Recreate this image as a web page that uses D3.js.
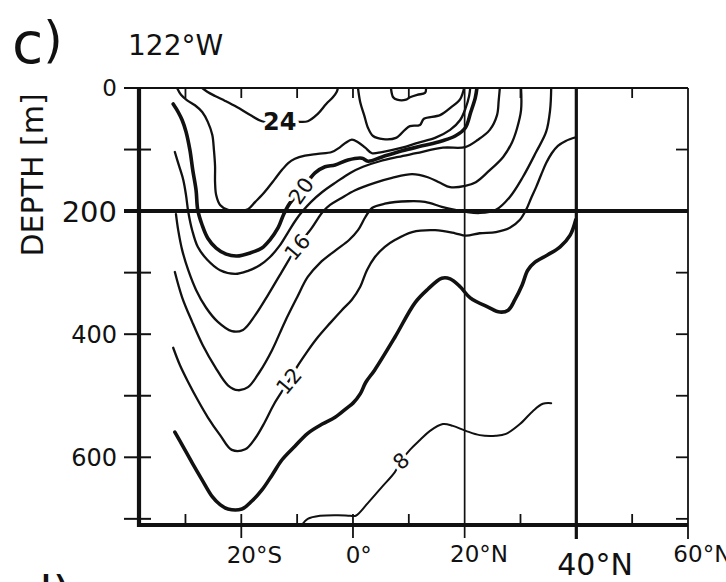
<!DOCTYPE html>
<html><head><meta charset="utf-8">
<script src="https://cdn.jsdelivr.net/npm/d3@7"></script>
<style>
body{margin:0;background:#fff}
svg{display:block}
text{font-family:"DejaVu Sans",sans-serif;fill:#111}
</style>
</head><body>
<svg id="chart" width="726" height="582"></svg>
<script>
// ---- data: isotherms as [latitude (deg, S negative), depth (m)] ----
const iso26 = [[6.8,0],[7.2,15],[7.9,19],[9.5,19],[10.2,15],[11.5,11],[12.9,8],[13.1,0]];
const iso24a = [[-27.0,0],[-26.1,6],[-24.7,13],[-22.9,21],[-20.8,31],[-18.4,44],[-16.3,54],[-13.1,57],[-10.0,55],[-8.1,54],[-6.3,42],[-4.8,26],[-3.6,15],[-2.9,6],[-2.7,0]];
const iso24b = [[0.9,0],[1.3,23],[2.0,44],[2.7,65],[3.6,78],[5.4,83],[7.7,81],[9.3,68],[10.2,62],[12.0,60],[12.7,50],[15.6,44],[17.6,31],[19.2,18],[19.9,0]];
const iso22 = [[-31.5,0],[-30.8,11],[-29.7,20],[-28.3,28],[-27.0,39],[-26.0,55],[-25.2,76],[-24.9,101],[-24.7,127],[-24.7,153],[-24.5,174],[-23.8,190],[-22.4,198],[-20.2,200],[-18.8,197],[-17.5,185],[-16.3,174],[-15.2,162],[-14.0,148],[-12.7,133],[-11.6,122],[-10.4,115],[-8.6,110],[-6.3,107],[-3.8,104],[-2.3,96],[-1.3,89],[-0.2,84],[0.9,88],[2.2,97],[3.4,106],[5.2,104],[8.8,97],[11.6,89],[14.7,81],[17.4,68],[19.2,52],[20.2,32],[20.8,13],[21.0,0]];
const iso20 = [[-32.2,26],[-31.3,39],[-30.6,52],[-29.9,71],[-29.2,101],[-28.7,133],[-28.1,166],[-27.8,198],[-27.0,223],[-26.0,244],[-24.5,260],[-22.7,270],[-20.8,273],[-18.4,268],[-16.3,260],[-14.9,247],[-13.4,227],[-12.4,205],[-11.3,187],[-9.3,167],[-6.8,138],[-5.0,128],[-3.2,125],[-0.9,117],[1.6,114],[2.7,119],[5.2,112],[8.8,102],[12.4,94],[15.9,86],[18.3,78],[20.1,65],[21.1,39],[21.9,16],[22.2,0]];
const iso18 = [[-31.9,104],[-31.2,125],[-30.4,149],[-29.9,174],[-29.5,201],[-28.8,231],[-27.8,258],[-26.1,279],[-23.8,296],[-21.1,302],[-18.8,297],[-16.7,288],[-14.9,275],[-13.2,257],[-11.6,234],[-10.2,214],[-9.0,200],[-7.5,185],[-5.5,169],[-3.0,153],[-0.5,138],[1.8,128],[4.8,119],[8.1,112],[11.3,106],[16.1,97],[20.1,96],[22.4,84],[24.5,68],[25.8,44],[26.1,20],[26.3,0]];
const iso16 = [[-31.7,205],[-31.3,231],[-30.6,263],[-29.5,296],[-28.1,328],[-26.3,357],[-24.2,380],[-21.7,395],[-19.7,393],[-17.5,369],[-15.2,336],[-13.1,304],[-10.0,258],[-7.5,229],[-6.4,214],[-5.4,201],[-4.1,190],[-2.3,180],[0.4,166],[3.9,154],[7.0,146],[10.6,140],[13.4,145],[15.6,154],[17.4,161],[20.1,159],[22.0,153],[24.2,136],[26.9,112],[28.5,88],[29.4,65],[30.1,36],[30.1,0]];
const iso14 = [[-31.9,299],[-30.6,340],[-28.8,380],[-26.9,418],[-24.7,453],[-22.4,483],[-20.6,491],[-18.8,486],[-16.7,461],[-14.5,426],[-12.2,380],[-10.0,340],[-8.1,307],[-5.9,284],[-3.0,263],[-0.7,247],[0.9,231],[2.2,210],[3.4,195],[5.7,188],[9.9,184],[12.9,185],[15.9,193],[18.3,198],[20.1,201],[22.7,203],[25.6,198],[28.1,177],[30.4,145],[32.8,104],[34.6,71],[35.3,36],[35.5,0]];
const iso12 = [[-32.2,422],[-31.0,450],[-29.5,478],[-27.8,507],[-26.0,535],[-23.8,564],[-21.7,588],[-19.3,587],[-17.5,569],[-15.8,543],[-14.1,513],[-11.5,476],[-9.8,450],[-8.1,427],[-6.3,405],[-4.1,382],[-2.0,361],[-0.2,344],[1.3,323],[2.5,296],[3.9,275],[5.7,258],[7.5,247],[10.6,234],[14.7,231],[18.3,236],[20.2,240],[22.7,236],[25.6,234],[28.1,227],[29.9,214],[31.0,198],[31.9,179],[32.8,161],[33.7,141],[34.6,122],[35.6,106],[36.7,94],[38.1,86],[39.9,80]];
const iso10 = [[-31.9,559],[-30.4,583],[-28.8,609],[-27.0,637],[-25.2,664],[-23.8,677],[-22.4,684],[-19.9,684],[-18.1,671],[-16.3,653],[-14.5,629],[-12.7,604],[-10.4,582],[-8.1,561],[-5.5,546],[-3.2,535],[-1.1,520],[0.0,512],[1.3,497],[2.3,478],[3.9,458],[7.5,405],[11.1,349],[13.4,327],[15.9,309],[17.4,310],[19.2,323],[21.0,341],[24.2,356],[26.3,364],[27.8,361],[29.0,344],[30.3,320],[31.3,296],[32.6,283],[34.9,271],[37.1,258],[38.9,239],[39.9,214]];
const iso8 = [[-9.0,708],[-8.1,700],[-5.9,695],[-2.7,694],[-0.5,695],[0.5,695],[2.7,674],[5.2,648],[7.5,624],[8.6,606],[10.2,588],[12.0,572],[13.8,557],[16.1,546],[17.9,549],[20.2,557],[22.7,564],[25.6,565],[27.4,562],[29.9,546],[32.2,525],[34.0,513],[35.5,512]];

const labelTexts = ["24","20","16","12","8"];
const labelLat   = [-13.1,-9.3,-10.0,-11.5,8.6];
const labelDepth = [55,167,258,476,606];

const depthTicks = [0,100,200,300,400,500,600,700];
const depthLabelValues = [0,200,400,600];
const latTicks = [-30,-20,-10,0,10,20,30,40,50,60];
const latLabelValues = [-20,0,20,40,60];
const latLabelNums = ["20","0","20","40","60"];
const latLabelSuffix = ["°S","°","°N","°N","°N"];

// ---- drawing ----
const svg = d3.select("#chart");
const x = d3.scaleLinear().domain([-38.5,60]).range([138,688]);
const y = d3.scaleLinear().domain([0,710]).range([88,525]);
const ink = "#111";

svg.append("defs").append("clipPath").attr("id","plot")
  .append("rect").attr("x",x(-38.5)).attr("y",y(0)).attr("width",x(60)-x(-38.5)).attr("height",y(710)-y(0));

const line = d3.line().x(d=>x(d[0])).y(d=>y(d[1])).curve(d3.curveCatmullRom.alpha(0.5));

const contours = [
  {pts:iso26,w:2.3},{pts:iso24a,w:2.3},{pts:iso24b,w:2.3},{pts:iso22,w:2.3},
  {pts:iso20,w:3.6},{pts:iso18,w:2.3},{pts:iso16,w:2.3},{pts:iso14,w:2.3},
  {pts:iso12,w:2.3},{pts:iso10,w:3.6},{pts:iso8,w:2.0}
];
const cg = svg.append("g").attr("clip-path","url(#plot)");
cg.selectAll("path").data(contours).join("path")
  .attr("d",d=>line(d.pts)).attr("fill","none").attr("stroke",ink)
  .attr("stroke-width",d=>d.w).attr("stroke-linejoin","round").attr("stroke-linecap","round");

// contour labels
const labelAngle = [0,-55,-50,-50,-42];
const labelSize = [24,21,21,21,21];
const labelWeight = ["bold","normal","normal","normal","normal"];
labelTexts.forEach((t,i)=>{
  svg.append("text")
    .attr("transform",`translate(${x(labelLat[i])},${y(labelDepth[i])}) rotate(${labelAngle[i]})`)
    .attr("text-anchor","middle").attr("dy","0.36em")
    .attr("font-size",labelSize[i]).attr("font-weight",labelWeight[i])
    .attr("stroke","#fff").attr("stroke-width",7).attr("paint-order","stroke")
    .attr("stroke-linejoin","round")
    .text(t);
});

// frame and grid
const fr = svg.append("g").attr("stroke",ink).attr("fill","none");
fr.append("line").attr("x1",125).attr("x2",x(60)).attr("y1",y(0)).attr("y2",y(0)).attr("stroke-width",2.2);
fr.append("line").attr("x1",x(60)).attr("x2",x(60)).attr("y1",y(0)).attr("y2",y(710)+14).attr("stroke-width",1.8);
fr.append("line").attr("x1",x(20)).attr("x2",x(20)).attr("y1",y(0)).attr("y2",y(710)+13).attr("stroke-width",1.7);
fr.append("line").attr("x1",x(40)).attr("x2",x(40)).attr("y1",y(0)).attr("y2",y(710)+14).attr("stroke-width",3.2);
fr.append("line").attr("x1",124).attr("x2",x(60)).attr("y1",y(200)).attr("y2",y(200)).attr("stroke-width",4);
fr.append("line").attr("x1",x(-38.5)+1).attr("x2",x(-38.5)+1).attr("y1",y(0)-1).attr("y2",y(710)+2).attr("stroke-width",4.2);
fr.append("line").attr("x1",x(-38.5)-1).attr("x2",x(60)).attr("y1",y(710)).attr("y2",y(710)).attr("stroke-width",4.2);

// depth ticks (left: crossing; right: inward)
depthTicks.forEach(d=>{
  fr.append("line").attr("x1",124).attr("x2",151).attr("y1",y(d)).attr("y2",y(d)).attr("stroke-width",2);
  if(d!==0 && d!==200)
    fr.append("line").attr("x1",x(60)-12).attr("x2",x(60)).attr("y1",y(d)).attr("y2",y(d)).attr("stroke-width",1.8);
});
// latitude ticks
latTicks.forEach(v=>{
  if(v===20||v===40||v===60) return;
  const major = (v===-20||v===0);
  fr.append("line").attr("x1",x(v)).attr("x2",x(v))
    .attr("y1",y(710)-11).attr("y2",y(710)+(major?13:0)).attr("stroke-width",1.8);
  fr.append("line").attr("x1",x(v)).attr("x2",x(v))
    .attr("y1",y(0)).attr("y2",y(0)+10).attr("stroke-width",1.8);
});

// depth labels
const depthLabelSize = [23,29,24,24];
depthLabelValues.forEach((d,i)=>{
  svg.append("text").attr("x",117).attr("y",y(d)+0.36*depthLabelSize[i])
    .attr("text-anchor","end").attr("font-size",depthLabelSize[i]).text(d);
});
// latitude labels (number centred on tick)
const latLabelSize = [23,23,23,30,23];
const latLabelBase = [563,563,562,575,562];
latLabelValues.forEach((v,i)=>{
  const fs = latLabelSize[i];
  const numW = latLabelNums[i].length*0.636*fs;
  svg.append("text").attr("x",x(v)-numW/2).attr("y",latLabelBase[i])
    .attr("font-size",fs).text(latLabelNums[i]+latLabelSuffix[i]);
});

// titles
svg.append("text").attr("transform","translate(43,175) rotate(-90)")
  .attr("text-anchor","middle").attr("font-size",30).text("DEPTH [m]");
svg.append("text").attr("x",128).attr("y",55).attr("font-size",28).text("122°W");
const pl = svg.append("text").attr("x",12).attr("y",63);
pl.append("tspan").attr("font-size",57).text("c");
pl.append("tspan").attr("font-size",50).attr("dy",-6).text(")");
svg.append("text").attr("x",22).attr("y",611).attr("font-size",48).text("d)");
</script>
</body></html>
